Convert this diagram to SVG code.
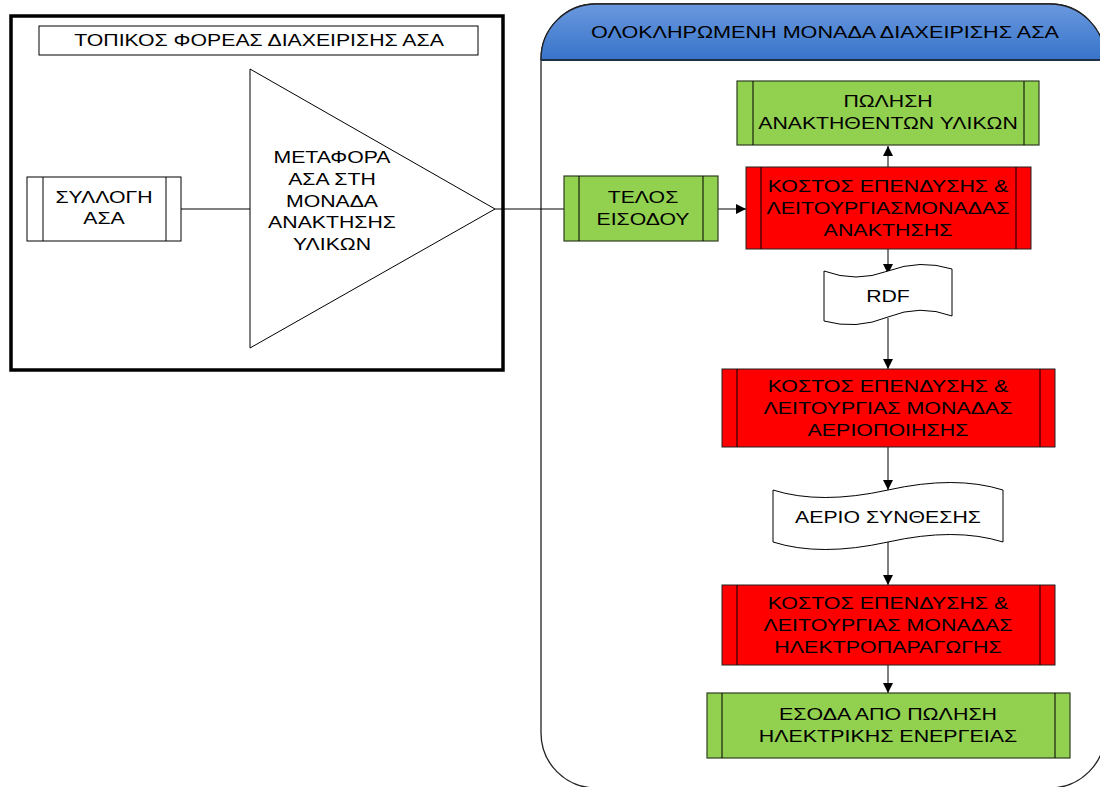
<svg xmlns="http://www.w3.org/2000/svg" width="1100" height="787" viewBox="0 0 1100 787">
<style>
text{font-family:"Liberation Sans",Arial,sans-serif;font-size:17px;fill:#000;text-anchor:middle}
.ln{stroke:#000;stroke-width:1;fill:none}
.red{fill:#ff0000;stroke:#222;stroke-width:1}
.grn{fill:#92d050;stroke:#2f3f22;stroke-width:1.2}
.wht{fill:#fff;stroke:#000;stroke-width:1}
</style>
<defs>
<linearGradient id="hdr" gradientUnits="userSpaceOnUse" x1="0" y1="4" x2="0" y2="60">
<stop offset="0" stop-color="#6a98de"/>
<stop offset="1" stop-color="#3774ca"/>
</linearGradient>
<clipPath id="hclip"><rect x="530" y="0" width="600" height="60"/></clipPath>
<marker id="arr" viewBox="0 0 10 10" refX="10" refY="5" markerWidth="10" markerHeight="10" markerUnits="userSpaceOnUse" orient="auto">
<path d="M0,0 L10,5 L0,10 z" fill="#000"/>
</marker>
</defs>
<rect width="1100" height="787" fill="#fff"/>

<g id="container">
<rect x="541" y="4" width="564" height="784" rx="55" ry="55" fill="#fff" stroke="#222" stroke-width="1.3"/>
<rect x="541" y="4" width="564" height="784" rx="55" ry="55" fill="url(#hdr)" stroke="#222" stroke-width="1.3" clip-path="url(#hclip)"/>
<line x1="541" y1="60" x2="1105" y2="60" stroke="#1e2f45" stroke-width="2"/>
<g transform="translate(825,0) scale(1.27,1)"><text x="0" y="38" font-size="18">ΟΛΟΚΛΗΡΩΜΕΝΗ ΜΟΝΑΔΑ ΔΙΑΧΕΙΡΙΣΗΣ ΑΣΑ</text></g>
</g>

<g id="local-body">
<rect x="11" y="16" width="492" height="354" fill="none" stroke="#000" stroke-width="3.5"/>
<rect x="39" y="26" width="439" height="29" fill="#fff" stroke="#000" stroke-width="1"/>
<g transform="translate(259,0) scale(1.25,1)"><text x="0" y="46">ΤΟΠΙΚΟΣ ΦΟΡΕΑΣ ΔΙΑΧΕΙΡΙΣΗΣ ΑΣΑ</text></g>
</g>

<g id="connectors">
<line class="ln" x1="181" y1="209" x2="250" y2="209"/>
<line class="ln" x1="495" y1="209" x2="564" y2="209"/>
<line class="ln" x1="718" y1="209" x2="746" y2="209" marker-end="url(#arr)"/>
<line class="ln" x1="888" y1="167" x2="888" y2="146" marker-end="url(#arr)"/>
<line class="ln" x1="888" y1="249" x2="888" y2="274" marker-end="url(#arr)"/>
<line class="ln" x1="888" y1="318" x2="888" y2="369" marker-end="url(#arr)"/>
<line class="ln" x1="888" y1="447" x2="888" y2="490" marker-end="url(#arr)"/>
<line class="ln" x1="888" y1="541" x2="888" y2="585" marker-end="url(#arr)"/>
<line class="ln" x1="888" y1="665" x2="888" y2="693" marker-end="url(#arr)"/>
</g>

<g id="collection">
<rect class="wht" x="27" y="177" width="154" height="64"/>
<line class="ln" x1="43" y1="177" x2="43" y2="241"/>
<line class="ln" x1="166" y1="177" x2="166" y2="241"/>
<g transform="translate(104,0) scale(1.25,1)">
<text x="0" y="203">ΣΥΛΛΟΓΗ</text>
<text x="0" y="224">ΑΣΑ</text>
</g>
</g>

<g id="transport">
<polygon points="250,69 250,348 495,209" fill="#fff" stroke="#000" stroke-width="1"/>
<g transform="translate(332,0) scale(1.25,1)">
<text x="0" y="163">ΜΕΤΑΦΟΡΑ</text>
<text x="0" y="185">ΑΣΑ ΣΤΗ</text>
<text x="0" y="207">ΜΟΝΑΔΑ</text>
<text x="0" y="228">ΑΝΑΚΤΗΣΗΣ</text>
<text x="0" y="250">ΥΛΙΚΩΝ</text>
</g>
</g>

<g id="entry-fee">
<rect class="grn" x="564" y="176" width="154" height="65"/>
<line class="ln" x1="579" y1="176" x2="579" y2="241"/>
<line class="ln" x1="703" y1="176" x2="703" y2="241"/>
<g transform="translate(643,0) scale(1.25,1)">
<text x="0" y="203">ΤΕΛΟΣ</text>
<text x="0" y="225">ΕΙΣΟΔΟΥ</text>
</g>
</g>

<g id="sale-materials">
<rect class="grn" x="737" y="81" width="302" height="64"/>
<line class="ln" x1="753" y1="81" x2="753" y2="145"/>
<line class="ln" x1="1024" y1="81" x2="1024" y2="145"/>
<g transform="translate(888,0) scale(1.25,1)">
<text x="0" y="107">ΠΩΛΗΣΗ</text>
<text x="0" y="129">ΑΝΑΚΤΗΘΕΝΤΩΝ ΥΛΙΚΩΝ</text>
</g>
</g>

<g id="cost-recovery">
<rect class="red" x="746" y="167" width="285" height="82"/>
<line class="ln" x1="761" y1="167" x2="761" y2="249"/>
<line class="ln" x1="1016" y1="167" x2="1016" y2="249"/>
<g transform="translate(888,0) scale(1.26,1)">
<text x="0" y="192">ΚΟΣΤΟΣ ΕΠΕΝΔΥΣΗΣ &amp;</text>
<text x="0" y="214">ΛΕΙΤΟΥΡΓΙΑΣΜΟΝΑΔΑΣ</text>
<text x="0" y="236">ΑΝΑΚΤΗΣΗΣ</text>
</g>
</g>

<g id="rdf">
<path class="wht" d="M824,271 Q856,283 888,271 Q920,259 952,269 L952,316 Q920,304 888,317 Q856,330 824,321 Z"/>
<g transform="translate(888,0) scale(1.25,1)"><text x="0" y="302">RDF</text></g>
</g>

<g id="cost-gasification">
<rect class="red" x="722" y="369" width="333" height="78"/>
<line class="ln" x1="737" y1="369" x2="737" y2="447"/>
<line class="ln" x1="1040" y1="369" x2="1040" y2="447"/>
<g transform="translate(888,0) scale(1.26,1)">
<text x="0" y="392">ΚΟΣΤΟΣ ΕΠΕΝΔΥΣΗΣ &amp;</text>
<text x="0" y="414">ΛΕΙΤΟΥΡΓΙΑΣ ΜΟΝΑΔΑΣ</text>
<text x="0" y="436">ΑΕΡΙΟΠΟΙΗΣΗΣ</text>
</g>
</g>

<g id="syngas">
<path class="wht" d="M773,490 Q820,505 888,490 Q955,475 1003,490 L1003,542 Q955,527 888,542 Q820,557 773,542 Z"/>
<g transform="translate(888,0) scale(1.25,1)"><text x="0" y="523">ΑΕΡΙΟ ΣΥΝΘΕΣΗΣ</text></g>
</g>

<g id="cost-power">
<rect class="red" x="722" y="585" width="333" height="80"/>
<line class="ln" x1="737" y1="585" x2="737" y2="665"/>
<line class="ln" x1="1040" y1="585" x2="1040" y2="665"/>
<g transform="translate(888,0) scale(1.26,1)">
<text x="0" y="609">ΚΟΣΤΟΣ ΕΠΕΝΔΥΣΗΣ &amp;</text>
<text x="0" y="631">ΛΕΙΤΟΥΡΓΙΑΣ ΜΟΝΑΔΑΣ</text>
<text x="0" y="653">ΗΛΕΚΤΡΟΠΑΡΑΓΩΓΗΣ</text>
</g>
</g>

<g id="revenue-power">
<rect class="grn" x="707" y="693" width="363" height="65"/>
<line class="ln" x1="722" y1="693" x2="722" y2="758"/>
<line class="ln" x1="1055" y1="693" x2="1055" y2="758"/>
<g transform="translate(888,0) scale(1.26,1)">
<text x="0" y="720">ΕΣΟΔΑ ΑΠΟ ΠΩΛΗΣΗ</text>
<text x="0" y="742">ΗΛΕΚΤΡΙΚΗΣ ΕΝΕΡΓΕΙΑΣ</text>
</g>
</g>
</svg>
